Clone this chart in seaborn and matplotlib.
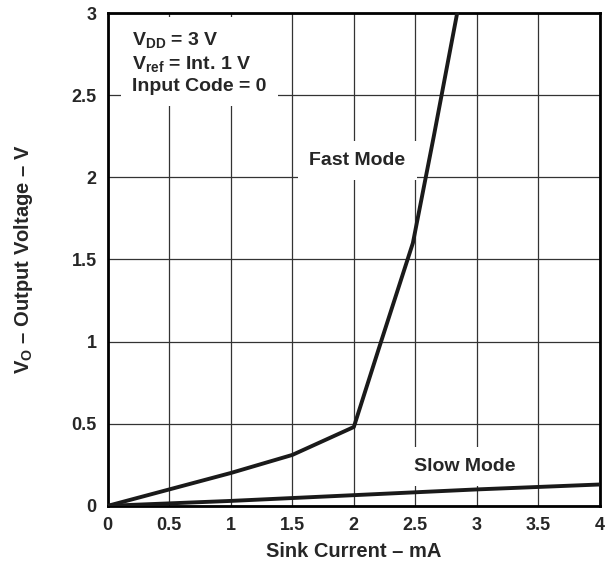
import numpy as np
import pandas as pd
import seaborn as sns
import matplotlib.pyplot as plt

# curves
fast_current = [0.0, 0.5, 1.0, 1.5, 2.0, 2.2, 2.48, 2.65, 2.84]
fast_voltage = [0.0, 0.1, 0.2, 0.31, 0.48, 0.95, 1.6, 2.25, 3.0]
slow_current = [0.0, 1.0, 2.0, 3.0, 4.0]
slow_voltage = [0.0, 0.03, 0.065, 0.1, 0.13]

xticks = [0, 0.5, 1, 1.5, 2, 2.5, 3, 3.5, 4]
yticks = [0, 0.5, 1, 1.5, 2, 2.5, 3]

df = pd.concat([
    pd.DataFrame({'I': fast_current, 'V': fast_voltage, 'mode': 'Fast Mode'}),
    pd.DataFrame({'I': slow_current, 'V': slow_voltage, 'mode': 'Slow Mode'}),
])

sns.set_style('white')
plt.rcParams['font.family'] = ['Liberation Sans', 'DejaVu Sans']
plt.rcParams['font.weight'] = 'bold'
plt.rcParams['mathtext.fontset'] = 'custom'
plt.rcParams['mathtext.rm'] = 'Liberation Sans:bold'
plt.rcParams['mathtext.it'] = 'Liberation Sans:bold'
plt.rcParams['mathtext.bf'] = 'Liberation Sans:bold'

fig = plt.figure(figsize=(6.09, 5.69), dpi=100)
ax = fig.add_axes([0.177, 0.111, 0.808, 0.866])

sns.lineplot(data=df, x='I', y='V', units='mode', estimator=None, color='#1a1a1a',
             linewidth=2.8, sort=False, ax=ax, legend=False, zorder=3)

ax.set_xlim(0, 4)
ax.set_ylim(0, 3)
ax.set_xticks(xticks)
ax.set_xticklabels(['0', '0.5', '1', '1.5', '2', '2.5', '3', '3.5', '4'])
ax.set_yticks(yticks)
ax.set_yticklabels(['0', '0.5', '1', '1.5', '2', '2.5', '3'])
ax.grid(True, color='#333333', linewidth=0.9)
ax.tick_params(length=0, labelsize=13, pad=8)
for lab in ax.get_xticklabels() + ax.get_yticklabels():
    lab.set_fontweight('bold')
for s in ax.spines.values():
    s.set_linewidth(2)
    s.set_color('black')

ax.set_xlabel('Sink Current – mA', fontsize=14.5, fontweight='bold', labelpad=6)
ax.set_ylabel(r'$\mathregular{V_O}$ – Output Voltage – V', fontsize=14.5, fontweight='bold', labelpad=26)

ax.text(0.2, 2.9, r'$\mathregular{V_{DD}}$ = 3 V' + '\n' + r'$\mathregular{V_{ref}}$ = Int. 1 V' + '\n' + 'Input Code = 0',
        fontsize=14, fontweight='bold', va='top', ha='left', linespacing=1.3,
        bbox=dict(facecolor='white', edgecolor='none', pad=8), zorder=2)
ax.text(2.03, 2.1, 'Fast Mode', fontsize=14, fontweight='bold', ha='center', va='center',
        bbox=dict(facecolor='white', edgecolor='none', pad=8), zorder=2)
ax.text(2.9, 0.24, 'Slow Mode', fontsize=14, fontweight='bold', ha='center', va='center',
        bbox=dict(facecolor='white', edgecolor='none', pad=8), zorder=2)

fig.savefig('out.png', dpi=100)
